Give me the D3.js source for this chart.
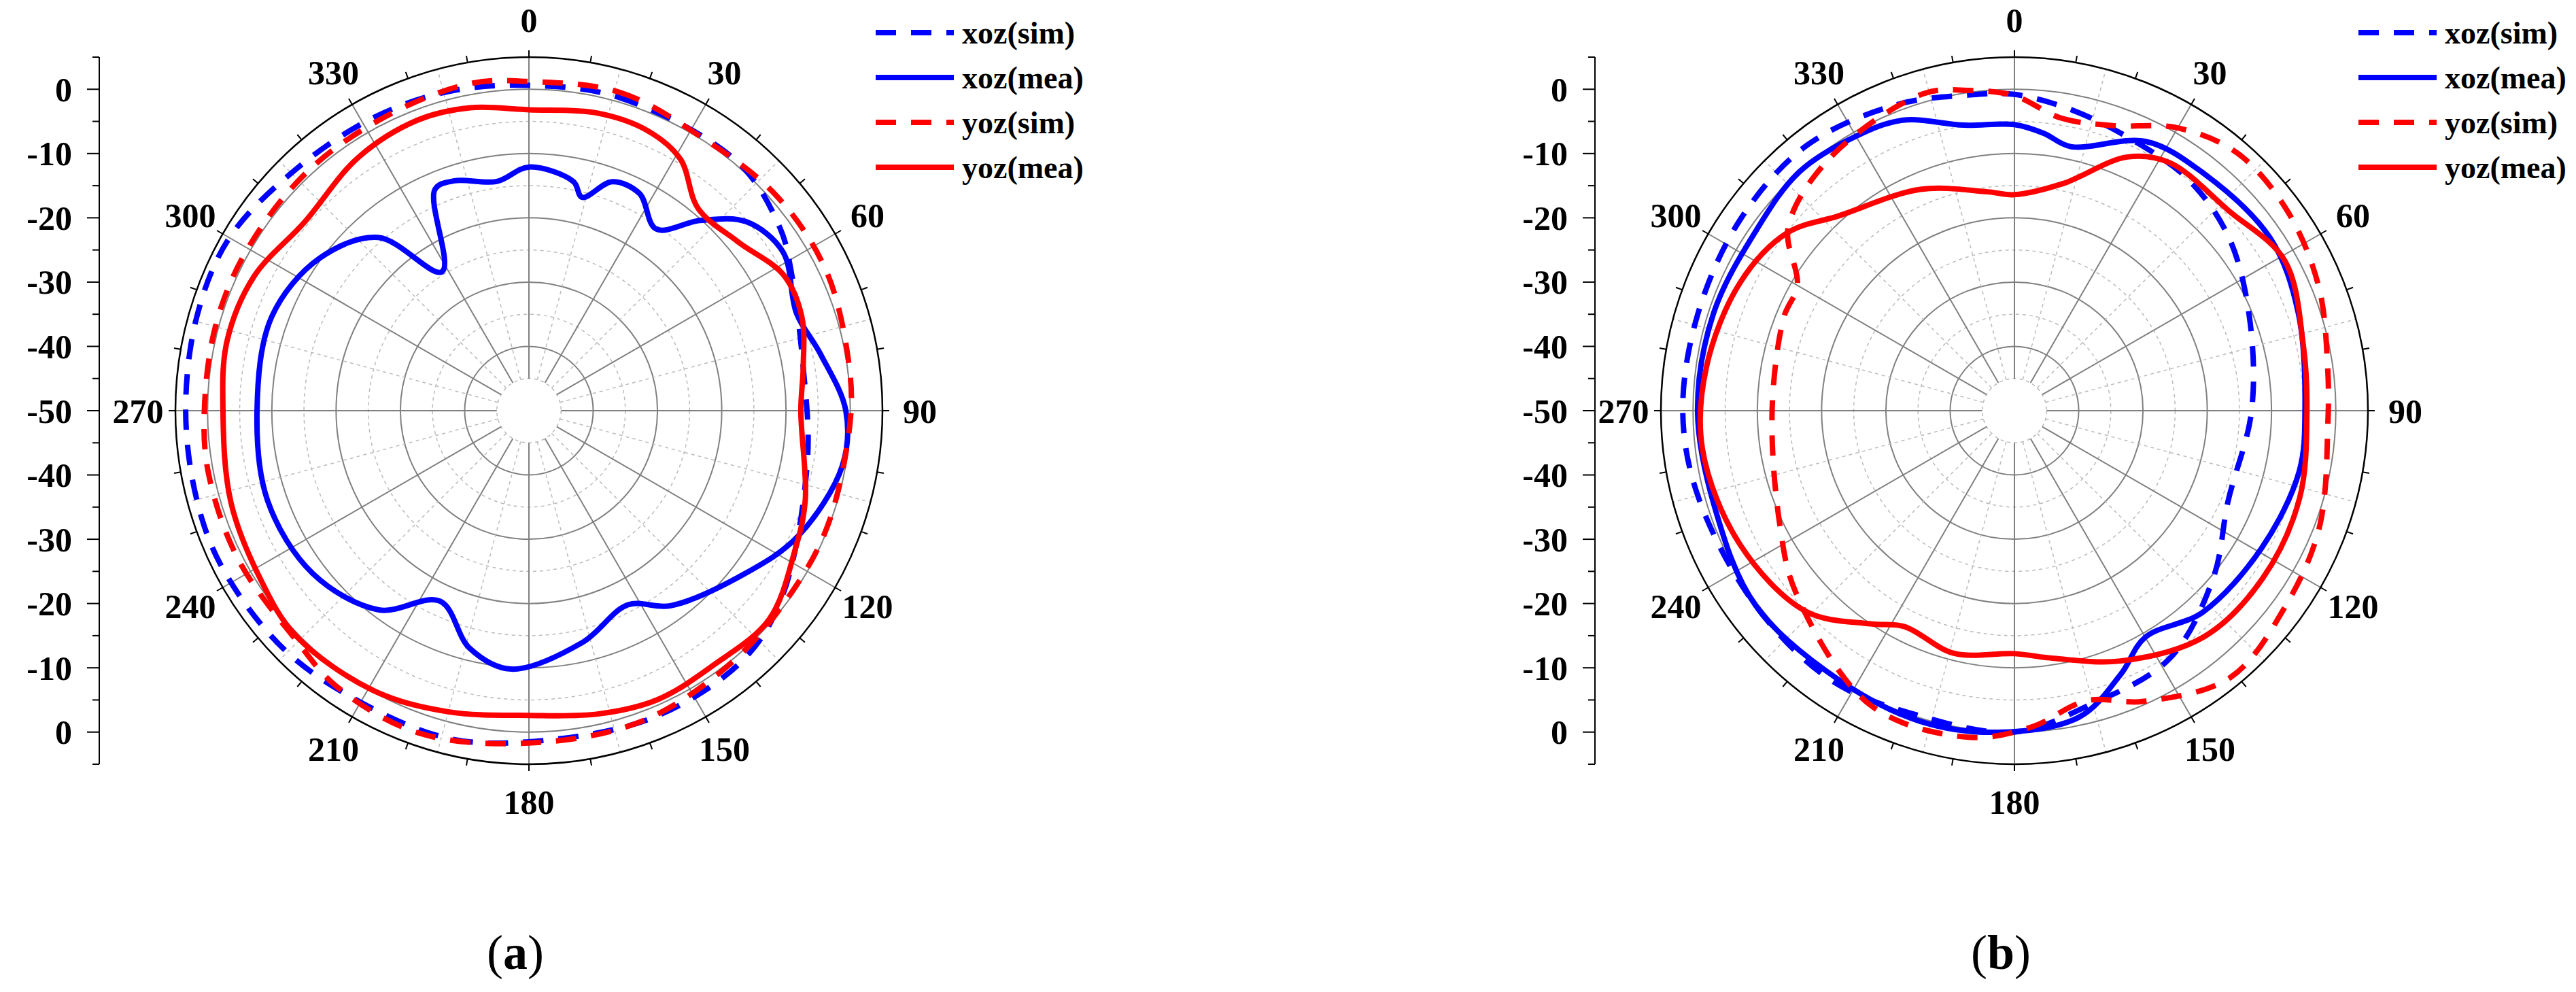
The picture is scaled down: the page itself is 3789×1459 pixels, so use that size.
<!DOCTYPE html>
<html><head><meta charset="utf-8">
<script src="https://cdn.jsdelivr.net/npm/d3@7"></script>
<style>body{margin:0;background:#fff}</style></head>
<body><svg id="c" width="3789" height="1459"></svg>
<script>
// ---- data: [angle(deg), gain(dB)] ----
const angleTicks=[0,30,60,90,120,150,180,210,240,270,300,330];
const axisTicks=[0,-10,-20,-30,-40,-50,-40,-30,-20,-10,0];
const seriesNames=["xoz(sim)","xoz(mea)","yoz(sim)","yoz(mea)"];
const a_xozSim=[[0,0.6],[16,0.7],[40,0.5],[54,-1.7],[62,-3.8],[81,-6.8],[100,-6.0],[126,-1.2],[139,1.1],[158,1.5],[180,1.5],[194,2.5],[211,2.4],[226,3.2],[243,3.6],[255,3.5],[270,3.4],[286,3.7],[300,3.8],[316,2.2],[332,1.6],[346,1.2]];
const a_xozMea=[[0,-12.1],[11,-13.7],[14,-15.8],[20,-12.1],[27,-12.1],[35,-15.5],[42,-10.2],[49,-5.2],[58,-3.4],[70,-5.7],[79,-3.8],[90,-0.7],[100,-0.5],[115,-3.8],[127,-7.9],[144,-12.5],[153,-16.1],[167,-13],[184,-9.7],[194,-11.9],[205,-17.3],[217,-11.2],[233,-7.9],[251,-7],[270,-7.7],[290,-7.4],[306,-9.7],[319,-14.3],[328,-24.5],[337,-12.6],[342,-12.4],[352,-14]];
const a_yozSim=[[0,1.2],[16,1.5],[32,0.3],[49,1],[65,1.1],[82,0.3],[92,0],[111,-0.2],[125,-0.3],[141,0.3],[160,1.4],[180,1.7],[199,3],[215,2.3],[225,0.9],[243,0.8],[259,0.8],[270,0.5],[285,0.5],[299,0.5],[317,0.7],[334,0.9],[350,1.7]];
const a_yozMea=[[0,-3.2],[13,-2.5],[23,-2.7],[31,-4.3],[40,-9],[51,-8.2],[62,-5.1],[71,-5.1],[81,-6.8],[90,-7.7],[108,-4.8],[118,-3.2],[131,-0.5],[144,-1.1],[156,-0.8],[167,-1.6],[180,-2.6],[195,-1.5],[209,-0.2],[226,0.4],[238,-0.7],[253,-1.5],[270,-2.4],[283,-1.8],[296,-2.4],[310,-4.4],[326,-2.5],[339,-1.6],[349,-2]];
const b_xozSim=[[0,-0.8],[11,-2.4],[24,-4.1],[37,-5],[51,-7.1],[68,-10.6],[90,-13.1],[113,-13.9],[130,-9.6],[148,-4.5],[166,-2.7],[180,0],[197,-0.3],[214,0.7],[233,0.4],[255,1],[270,1.6],[287,1.5],[305,2],[322,2.4],[339,1],[352,-0.4]];
const b_xozMea=[[0,-5.5],[6,-6.6],[12,-8],[26,-3.4],[38,-2.8],[56,-2],[71,-3.3],[90,-4.8],[102,-4.7],[119,-6],[137,-7.1],[150,-9.3],[158,-5.8],[168,-1.3],[183,0.1],[197,0.5],[213,0],[233,0.4],[252,-1],[270,-0.7],[288,-0.8],[305,-1],[318,0],[330,-0.7],[339,-1.6],[350,-4.9]];
const b_yozSim=[[0,-1],[9,-3.9],[19,-3.1],[30,0.8],[41,3],[54,2.6],[68,1.1],[82,-0.8],[92,-1.2],[111,0.8],[126,2],[141,3.4],[156,-0.5],[166,-3.5],[177,-0.7],[188,1.3],[206,1],[230,-5.7],[244,-9.4],[270,-12.3],[292,-11.3],[300,-11],[309,-4.7],[324,-1.3],[344,1.3],[352,0.3]];
const b_yozMea=[[0,-16.4],[12,-13.9],[24,-6.8],[32,-4.5],[47,-4.4],[61,-1.9],[77,-3.9],[90,-4.5],[107,-3.6],[124,-3.4],[140,-4.1],[157,-7.7],[171,-11],[180,-12.2],[194,-11.1],[207,-12.3],[214,-10],[226,-5],[244,-2.5],[263,-1.1],[278,-1.6],[295,-2.9],[308,-5.1],[318,-9.2],[337,-12.6],[353,-15.7]];

const styles=[{c:"#0000ff",d:"30,22"},{c:"#0000ff",d:null},{c:"#ff0000",d:"30,22"},{c:"#ff0000",d:null}];
const svg=d3.select("#c");
const FONT="'Liberation Serif','Times New Roman',serif";

function panel(cx,cy,axisX,legX,series,letter){
  const R=520;
  const r=d3.scaleLinear().domain([-50,5]).range([0,R]);
  const g=svg.append("g").attr("transform",`translate(${cx},${cy})`);
  const rad=d=>d*Math.PI/180;
  // dashed minor rings
  [-45,-35,-25,-15,-5].forEach(v=>g.append("circle").attr("r",r(v)).attr("fill","none").attr("stroke","#bbb").attr("stroke-width",1.5).attr("stroke-dasharray","5,5"));
  [-40,-30,-20,-10,0].forEach(v=>g.append("circle").attr("r",r(v)).attr("fill","none").attr("stroke","#808080").attr("stroke-width",2));
  // spokes
  d3.range(0,360,15).forEach(a=>{
    const major=a%30===0;
    g.append("line").attr("x1",r(-45)*Math.sin(rad(a))).attr("y1",-r(-45)*Math.cos(rad(a)))
     .attr("x2",R*Math.sin(rad(a))).attr("y2",-R*Math.cos(rad(a)))
     .attr("stroke",major?"#808080":"#bbb").attr("stroke-width",major?2:1.5).attr("stroke-dasharray",major?null:"5,5");
  });
  g.append("circle").attr("r",R).attr("fill","none").attr("stroke","#000").attr("stroke-width",2.5);
  d3.range(0,360,10).forEach(a=>{
    g.append("line").attr("x1",R*Math.sin(rad(a))).attr("y1",-R*Math.cos(rad(a)))
     .attr("x2",(R+10)*Math.sin(rad(a))).attr("y2",-(R+10)*Math.cos(rad(a))).attr("stroke","#000").attr("stroke-width",2);
  });
  angleTicks.forEach(a=>{
    const lr=R+55;
    g.append("text").attr("x",lr*Math.sin(rad(a))).attr("y",-lr*Math.cos(rad(a))).attr("dy","0.35em")
     .attr("text-anchor","middle").attr("font-family",FONT).attr("font-weight","bold").attr("font-size",50).text(a);
  });
  const line=d3.lineRadial().angle(d=>rad(d[0])).radius(d=>r(d[1])).curve(d3.curveCatmullRomClosed.alpha(0.5));
  series.forEach((s,i)=>{
    g.append("path").attr("d",line(s)).attr("fill","none").attr("stroke",styles[i].c)
     .attr("stroke-width",8).attr("stroke-dasharray",styles[i].d);
  });
  // left axis
  const y=d3.scaleLinear().domain([5,-50]).range([cy-R,cy]);
  const ax=svg.append("g");
  ax.append("line").attr("x1",axisX).attr("x2",axisX).attr("y1",cy-R).attr("y2",cy+R).attr("stroke","#000").attr("stroke-width",2);
  d3.range(-50,5.01,5).forEach(v=>{
    [y(v),2*cy-y(v)].forEach(yy=>{
      const maj=v%10===0;
      ax.append("line").attr("x1",axisX-(maj?18:10)).attr("x2",axisX).attr("y1",yy).attr("y2",yy).attr("stroke","#000").attr("stroke-width",2);
    });
  });
  axisTicks.forEach((t,i)=>{
    const v=i<=5?t:t; const yy=i<=5?y(t):2*cy-y(t);
    ax.append("text").attr("x",axisX-40).attr("y",yy).attr("dy","0.35em").attr("text-anchor","end")
      .attr("font-family",FONT).attr("font-weight","bold").attr("font-size",50).text(t);
  });
  // legend
  seriesNames.forEach((n,i)=>{
    const ly=48+i*66;
    svg.append("line").attr("x1",legX).attr("x2",legX+115).attr("y1",ly).attr("y2",ly).attr("stroke",styles[i].c).attr("stroke-width",8).attr("stroke-dasharray",styles[i].d?"30,22":null);
    svg.append("text").attr("x",legX+127).attr("y",ly).attr("dy","0.35em").attr("font-family",FONT).attr("font-weight","bold").attr("font-size",46).text(n);
  });
  const lab=svg.append("text").attr("x",cx-20).attr("y",1400).attr("dy","0.35em").attr("text-anchor","middle").attr("font-family",FONT).attr("font-size",72);
  lab.append("tspan").text("(");lab.append("tspan").attr("font-weight","bold").text(letter);lab.append("tspan").text(")");
}
panel(778,604,146,1288,[a_xozSim,a_xozMea,a_yozSim,a_yozMea],"a");
panel(2963,604,2346,3469,[b_xozSim,b_xozMea,b_yozSim,b_yozMea],"b");
</script></body></html>
